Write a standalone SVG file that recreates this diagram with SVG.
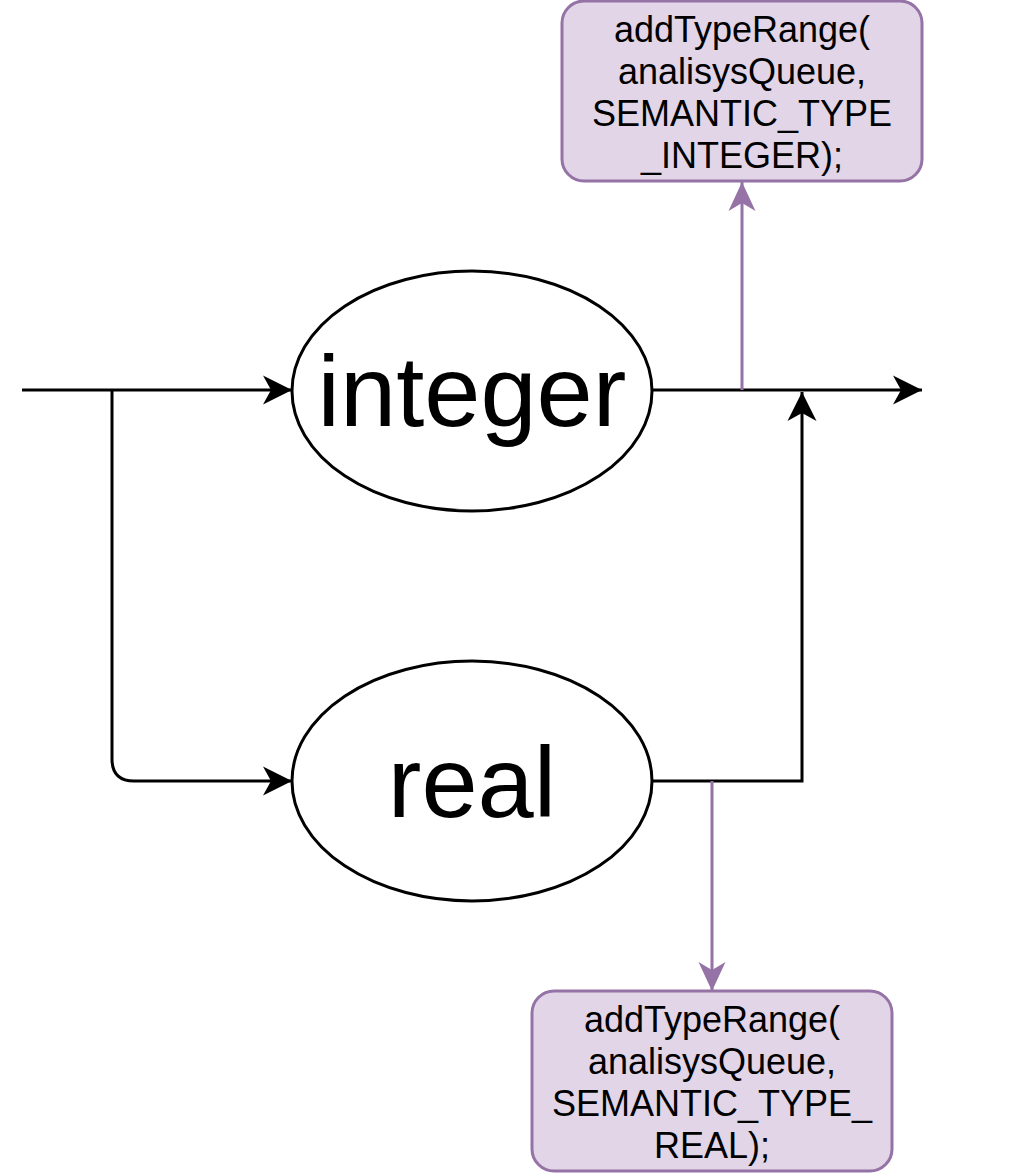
<svg xmlns="http://www.w3.org/2000/svg" width="1014" height="1176" viewBox="0 0 1014 1176">
<style>
.conn{fill:none;stroke:#000;stroke-width:3}
.pconn{fill:none;stroke:#9673a6;stroke-width:3}
.ell{fill:#fff;stroke:#000;stroke-width:3}
.box{fill:#e1d5e7;stroke:#9673a6;stroke-width:3}
.big{font-family:"Liberation Sans",Arial,sans-serif;font-size:101px;fill:#000;text-anchor:middle}
.lbl{font-family:"Liberation Sans",Arial,sans-serif;font-size:36px;fill:#000;text-anchor:middle}
</style>
<defs>
<marker id="ab" markerUnits="userSpaceOnUse" markerWidth="32" markerHeight="32" refX="29" refY="15" orient="auto" viewBox="0 0 32 32">
<path d="M0,0.5 L29,15 L0,29.5 L8,15 Z" fill="#000"/>
</marker>
<marker id="ap" markerUnits="userSpaceOnUse" markerWidth="32" markerHeight="32" refX="29" refY="15" orient="auto" viewBox="0 0 32 32">
<path d="M0,1.5 L29,15 L0,28.5 L8,15 Z" fill="#9673a6"/>
</marker>
</defs>
<rect width="1014" height="1176" fill="#fff"/>
<g id="connectors">
<path class="conn" d="M22,390 L292,390" marker-end="url(#ab)"/>
<path class="conn" d="M652,390 L922,390" marker-end="url(#ab)"/>
<path class="conn" d="M112,390 L112,759 Q112,781 134,781 L292,781" marker-end="url(#ab)"/>
<path class="conn" d="M652,781 L802,781 L802,392" marker-end="url(#ab)"/>
<path class="pconn" d="M742,390 L742,182" marker-end="url(#ap)"/>
<path class="pconn" d="M712,781 L712,991" marker-end="url(#ap)"/>
</g>
<g id="integer">
<ellipse class="ell" cx="472" cy="391" rx="180" ry="120"/>
<text class="big" x="472" y="426">integer</text>
</g>
<g id="real">
<ellipse class="ell" cx="472" cy="781" rx="180" ry="120"/>
<text class="big" x="472" y="817">real</text>
</g>
<g id="action-integer">
<rect class="box" x="562" y="1" width="360" height="180" rx="22"/>
<text class="lbl" x="742" y="42">addTypeRange(</text>
<text class="lbl" x="742" y="84">analisysQueue,</text>
<text class="lbl" x="742" y="126">SEMANTIC_TYPE</text>
<text class="lbl" x="742" y="168">_INTEGER);</text>
</g>
<g id="action-real">
<rect class="box" x="532" y="991" width="360" height="180" rx="22"/>
<text class="lbl" x="712" y="1032">addTypeRange(</text>
<text class="lbl" x="712" y="1074">analisysQueue,</text>
<text class="lbl" x="712" y="1116">SEMANTIC_TYPE_</text>
<text class="lbl" x="712" y="1158">REAL);</text>
</g>
</svg>
